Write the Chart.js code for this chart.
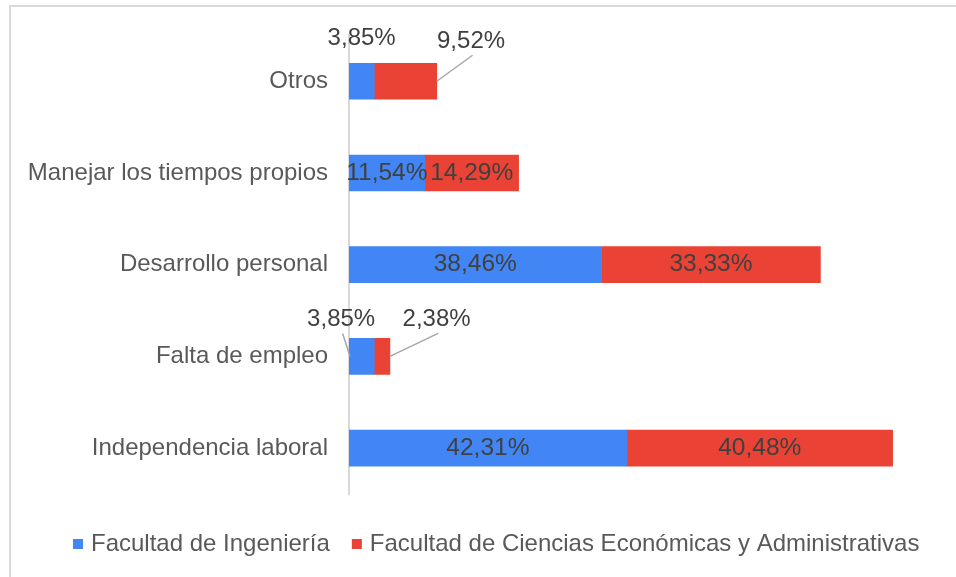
<!DOCTYPE html>
<html>
<head>
<meta charset="utf-8">
<script src="https://cdn.jsdelivr.net/npm/chart.js@4"></script>
<style>
  body { margin: 0; background: #fff; overflow: hidden; }
  #frame { position: absolute; left: 9px; top: 5px; width: 1000px; height: 1000px; border: 2px solid #d9d9d9; }
  #chart { position: absolute; left: 0; top: 0; }
</style>
</head>
<body>
<div id="frame"></div>
<canvas id="chart" width="956" height="577"></canvas>
<script>
const categories = ['Otros', 'Manejar los tiempos propios', 'Desarrollo personal', 'Falta de empleo', 'Independencia laboral'];
const seriesNames = ['Facultad de Ingeniería', 'Facultad de Ciencias Económicas y Administrativas'];
const ingenieria = [3.85, 11.54, 38.46, 3.85, 42.31];
const economicas = [9.52, 14.29, 33.33, 2.38, 40.48];

const FONT = "'Liberation Sans', Arial, sans-serif";

// labels that don't fit in their bar go outside, offset from the bar centre
const callouts = {
  '0-0': { dx: 0, dy: -43, line: null },
  '1-0': { dx: 65.5, dy: -40, line: 'end' },
  '0-3': { dx: -20.5, dy: -37, line: 'base' },
  '1-3': { dx: 54.5, dy: -37, line: 'end' }
};

const fmt = v => v.toFixed(2).replace('.', ',') + '%';

const valueLabels = {
  id: 'valueLabels',
  afterDatasetsDraw(chart) {
    const ctx = chart.ctx;
    ctx.save();
    ctx.textAlign = 'center';
    ctx.textBaseline = 'middle';
    chart.data.datasets.forEach((ds, di) => {
      chart.getDatasetMeta(di).data.forEach((bar, i) => {
        const text = fmt(ds.data[i]);
        const cx = (bar.x + bar.base) / 2;
        const c = callouts[di + '-' + i];
        if (!c) {
          ctx.font = '24.5px ' + FONT;
          ctx.fillStyle = '#404040';
          ctx.fillText(text, cx, bar.y);
          return;
        }
        const lx = cx + c.dx, ly = bar.y + c.dy;
        if (c.line) {
          const tx = c.line === 'end' ? bar.x : bar.base + 1;
          ctx.strokeStyle = '#a6a6a6';
          ctx.lineWidth = 1.5;
          ctx.beginPath();
          ctx.moveTo(lx + 1.5, ly + 14);
          ctx.lineTo(tx, bar.y);
          ctx.stroke();
        }
        ctx.font = '24px ' + FONT;
        ctx.fillStyle = '#404040';
        ctx.fillText(text, lx, ly);
      });
    });
    ctx.restore();
  }
};

// legend drawn under the plot, squares + series names
const bottomLegend = {
  id: 'bottomLegend',
  afterDraw(chart) {
    const ctx = chart.ctx;
    ctx.save();
    ctx.font = '24px ' + FONT;
    ctx.textBaseline = 'middle';
    ctx.textAlign = 'left';
    let x = 73;
    const y = 544;
    chart.data.datasets.forEach(ds => {
      ctx.fillStyle = ds.backgroundColor;
      ctx.fillRect(x, y - 5, 10, 10);
      ctx.fillStyle = '#595959';
      ctx.fillText(ds.label, x + 18, y);
      x += 18 + ctx.measureText(ds.label).width + 22;
    });
    ctx.restore();
  }
};

new Chart(document.getElementById('chart'), {
  type: 'bar',
  data: {
    labels: categories,
    datasets: [
      { label: seriesNames[0], data: ingenieria, backgroundColor: '#4285F4' },
      { label: seriesNames[1], data: economicas, backgroundColor: '#EA4335' }
    ]
  },
  options: {
    indexAxis: 'y',
    responsive: false,
    animation: false,
    layout: { padding: { left: 0, right: 16, top: 34, bottom: 83 } },
    datasets: { bar: { barThickness: 36 } },
    scales: {
      x: { stacked: true, display: false, min: 0, max: 90 },
      y: {
        stacked: true,
        grid: { display: false, drawTicks: false },
        border: { display: true, color: '#d9d9d9', width: 2 },
        ticks: { color: '#595959', padding: 21, font: { family: FONT, size: 24 } },
        afterFit(scale) { scale.width = 349; }
      }
    },
    plugins: {
      legend: { display: false },
      tooltip: { enabled: false }
    }
  },
  plugins: [valueLabels, bottomLegend]
});
</script>
</body>
</html>
